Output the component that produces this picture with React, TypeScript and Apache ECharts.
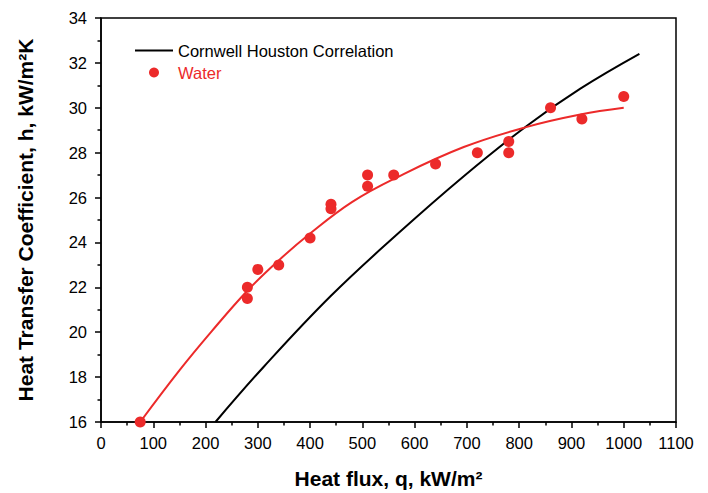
import React, { useEffect, useRef } from "react";
import * as echarts from "echarts";

const RED = "#ec2a2a";

// Cornwell Houston correlation curve (q, h)
const cornwellQ = [219, 311, 439, 566, 694, 815, 917, 1030];
const cornwellH = [16.0, 18.45, 21.6, 24.35, 26.95, 29.2, 30.85, 32.4];

// Water measurements (q, h)
const waterQ = [75, 280, 280, 300, 340, 400, 440, 440, 510, 510, 560, 640, 720, 780, 780, 860, 920, 1000];
const waterH = [16.0, 22.0, 21.5, 22.8, 23.0, 24.2, 25.7, 25.5, 27.0, 26.5, 27.0, 27.5, 28.0, 28.5, 28.0, 30.0, 29.5, 30.5];

// Fitted curve through water data
const fitQ = [75, 150, 212, 280, 340, 400, 480, 566, 694, 815, 917, 1000];
const fitH = [16.0, 18.3, 20.05, 21.85, 23.2, 24.4, 25.8, 26.9, 28.25, 29.15, 29.7, 30.0];

const xTicks = { min: 0, max: 1100, interval: 100 };
const yTicks = { min: 16, max: 34, interval: 2 };

const zip = (a: number[], b: number[]) => a.map((v, i) => [v, b[i]]);

export default function App() {
  const ref = useRef<HTMLDivElement>(null);
  useEffect(() => {
    if (!ref.current) return;
    const chart = echarts.init(ref.current, null, { renderer: "svg" });
    const font = "'Liberation Sans', Arial, sans-serif";
    chart.setOption({
      animation: false,
      backgroundColor: "#fff",
      textStyle: { fontFamily: font },
      grid: {
        left: 101,
        top: 18,
        right: 32,
        bottom: 71,
        show: true,
        borderColor: "#000",
        borderWidth: 1.5,
        containLabel: false,
        outerBoundsMode: "none",
      },
      legend: {
        orient: "vertical",
        left: 130,
        top: 37,
        itemWidth: 38,
        itemHeight: 10,
        itemGap: 5,
        itemTextGap: 3,
        textStyle: { fontSize: 16.5, color: "#000", fontFamily: font },
        data: [
          { name: "Cornwell Houston Correlation", icon: "path://M0 0H38V2H0Z" },
          { name: "Water", icon: "circle", textStyle: { color: RED } },
        ],
      },
      xAxis: {
        type: "value",
        min: xTicks.min,
        max: xTicks.max,
        interval: xTicks.interval,
        name: "Heat flux, q, kW/m²",
        nameLocation: "middle",
        nameGap: 46,
        nameTextStyle: { fontSize: 21, fontWeight: "bold", color: "#000", fontFamily: font },
        axisLine: { show: true, onZero: false, lineStyle: { color: "#000", width: 1.5 } },
        axisTick: { show: true, inside: false, length: 6, lineStyle: { color: "#000", width: 1.5 } },
        minorTick: { show: true, splitNumber: 2, length: 3.5, lineStyle: { color: "#000", width: 1.5 } },
        axisLabel: {
          fontSize: 16.5,
          color: "#000",
          margin: 12,
          fontFamily: font,
          formatter: (v: number) => String(v),
        },
        splitLine: { show: false },
      },
      yAxis: {
        type: "value",
        min: yTicks.min,
        max: yTicks.max,
        interval: yTicks.interval,
        name: "Heat Transfer Coefficient, h, kW/m²K",
        nameLocation: "middle",
        nameGap: 65,
        nameTextStyle: { fontSize: 21, fontWeight: "bold", color: "#000", fontFamily: font },
        axisLine: { show: true, onZero: false, lineStyle: { color: "#000", width: 1.5 } },
        axisTick: { show: true, inside: false, length: 6, lineStyle: { color: "#000", width: 1.5 } },
        minorTick: { show: true, splitNumber: 2, length: 3.5, lineStyle: { color: "#000", width: 1.5 } },
        axisLabel: {
          fontSize: 16.5,
          color: "#000",
          margin: 14,
          fontFamily: font,
          formatter: (v: number) => String(v),
        },
        splitLine: { show: false },
      },
      series: [
        {
          name: "Cornwell Houston Correlation",
          type: "line",
          data: zip(cornwellQ, cornwellH),
          smooth: 0.4,
          symbol: "none",
          showSymbol: false,
          lineStyle: { color: "#000", width: 2 },
          itemStyle: { color: "#000" },
          z: 2,
        },
        {
          name: "Water fit",
          type: "line",
          data: zip(fitQ, fitH),
          smooth: 0.4,
          symbol: "none",
          showSymbol: false,
          lineStyle: { color: RED, width: 2 },
          itemStyle: { color: RED },
          z: 3,
        },
        {
          name: "Water",
          type: "scatter",
          data: zip(waterQ, waterH),
          symbol: "circle",
          symbolSize: 11,
          clip: true,
          itemStyle: { color: RED, opacity: 1 },
          z: 4,
        },
      ],
    });
    return () => chart.dispose();
  }, []);
  return (
    <div
      ref={ref}
      style={{ position: "fixed", left: 0, top: 0, width: 708, height: 493, background: "#fff" }}
    />
  );
}
